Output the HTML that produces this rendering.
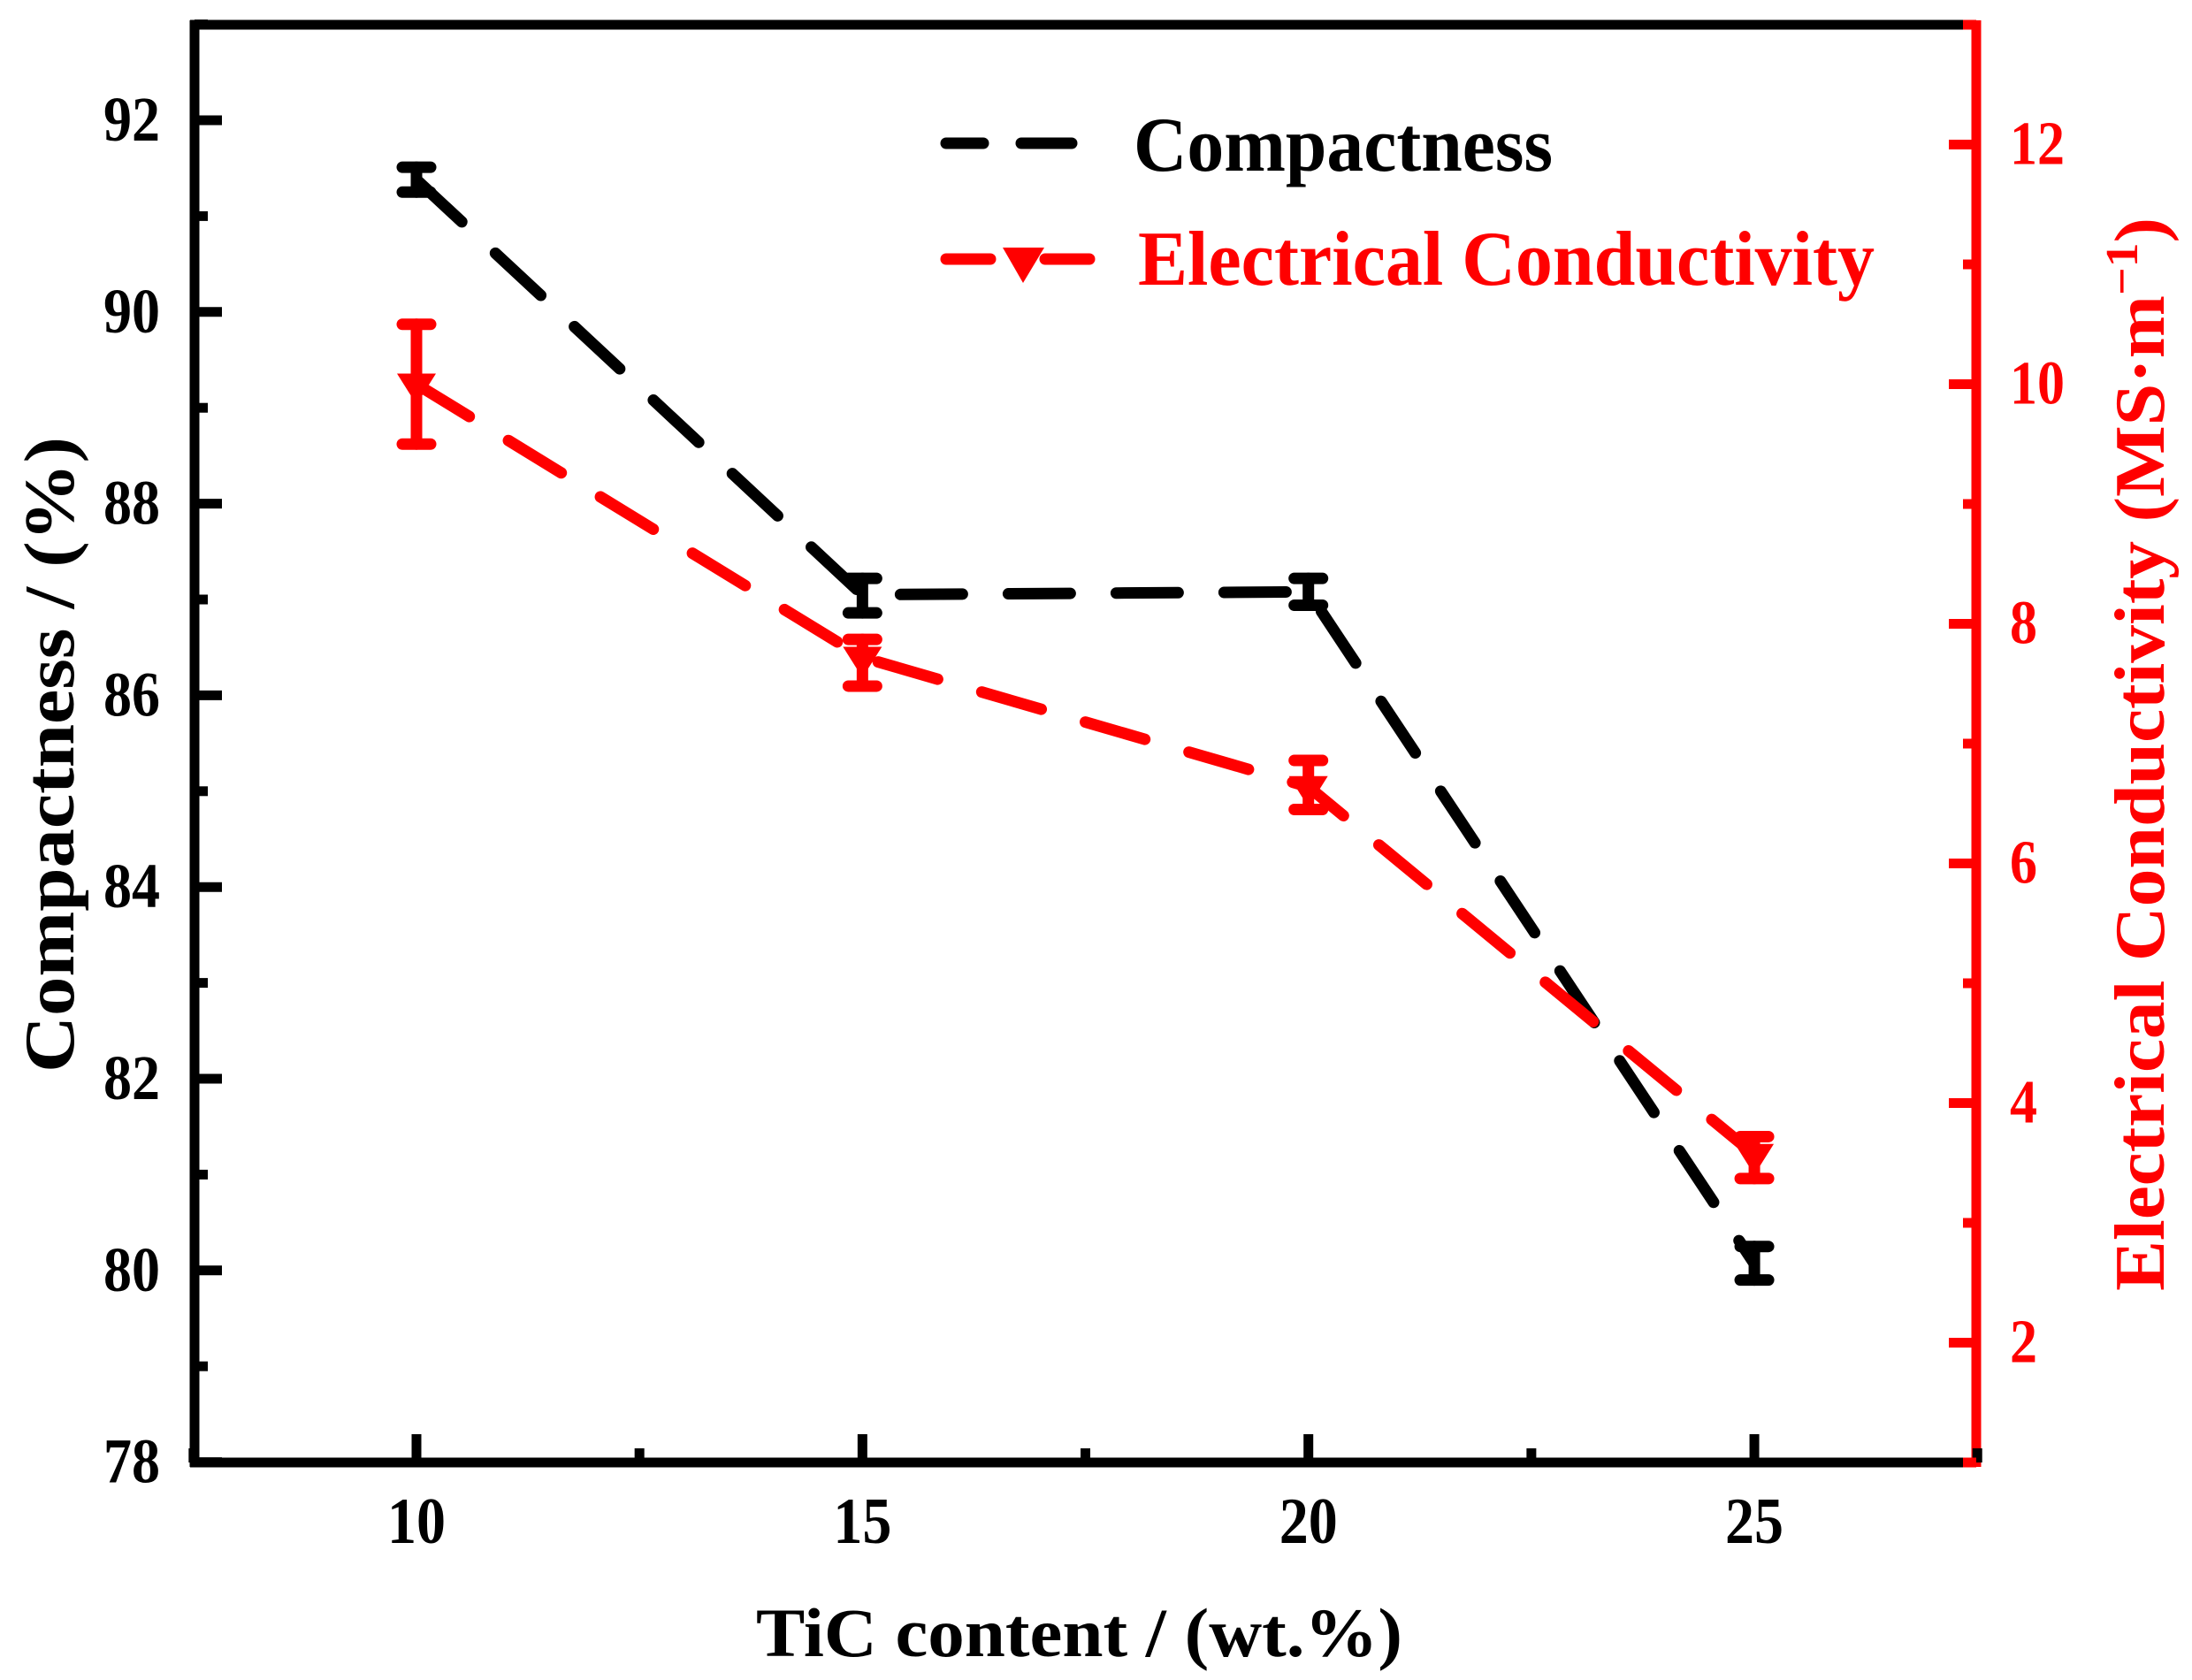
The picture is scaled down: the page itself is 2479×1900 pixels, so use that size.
<!DOCTYPE html>
<html><head><meta charset="utf-8"><style>
html,body{margin:0;padding:0;background:#fff;}
svg{display:block;}
text{font-family:"Liberation Serif",serif;font-weight:bold;}
</style></head><body>
<svg id="chart" width="2479" height="1900" viewBox="0 0 2479 1900" xmlns="http://www.w3.org/2000/svg">
<g id="plot"></g>
</svg>
<script>
const categories = [10, 15, 20, 25];
const compactness = [91.38, 87.05, 87.08, 80.07];
const compactnessErrHi = [91.51, 87.22, 87.22, 80.25];
const compactnessErrLo = [91.25, 86.86, 86.94, 79.90];
const conductivity = [10.0, 7.72, 6.64, 3.57];
const conductivityErrHi = [10.5, 7.87, 6.86, 3.72];
const conductivityErrLo = [9.5, 7.48, 6.45, 3.37];
const xTicks = [10, 15, 20, 25];
const xMinor = [7.5, 12.5, 17.5, 22.5, 27.5];
const yLeftTicks = [78, 80, 82, 84, 86, 88, 90, 92];
const yLeftMinor = [79, 81, 83, 85, 87, 89, 91, 93];
const yRightTicks = [2, 4, 6, 8, 10, 12];
const yRightMinor = [1, 3, 5, 7, 9, 11, 13];

const NS = "http://www.w3.org/2000/svg";
const plotG = document.getElementById("plot");
const X0 = 220, X1 = 2235, Y0 = 28, Y1 = 1654;
function x(v){ return 471 + (v - 10) * 100.87; }
function yL(v){ return 136 + (92 - v) * 108.4; }
function yR(v){ return 1654 - (v - 1) * 135.5; }
function mk(tag, attrs, parent){
  const e = document.createElementNS(NS, tag);
  for (const k in attrs) e.setAttribute(k, attrs[k]);
  (parent || plotG).appendChild(e);
  return e;
}

const blackPts = categories.map((c,i)=>x(c)+","+yL(compactness[i])).join(" ");
const lineC = mk("polyline",{points:blackPts,fill:"none",stroke:"#000","stroke-width":13,"stroke-dasharray":"70 52","stroke-linecap":"round","stroke-linejoin":"round"});


const redPts = categories.map((c,i)=>x(c)+","+yR(conductivity[i])).join(" ");
const lineE = mk("polyline",{points:redPts,fill:"none",stroke:"#ff0000","stroke-width":13,"stroke-dasharray":"70 52","stroke-linecap":"round","stroke-linejoin":"round"});



categories.forEach((c,i)=>{
  const cx = x(c);
  const eb = mk("g",{stroke:"#000","stroke-width":13,"stroke-linecap":"round"});
  
  
  const hi = yL(compactnessErrHi[i]), lo = yL(compactnessErrLo[i]);
  mk("line",{x1:cx,y1:hi,x2:cx,y2:lo},eb);
  mk("line",{x1:cx-16,y1:hi,x2:cx+16,y2:hi},eb);
  mk("line",{x1:cx-16,y1:lo,x2:cx+16,y2:lo},eb);
  const eb2 = mk("g",{stroke:"#ff0000","stroke-width":13,"stroke-linecap":"round"});
  
  
  const h2 = yR(conductivityErrHi[i]), lo2 = yR(conductivityErrLo[i]);
  mk("line",{x1:cx,y1:h2,x2:cx,y2:lo2},eb2);
  mk("line",{x1:cx-16,y1:h2,x2:cx+16,y2:h2},eb2);
  mk("line",{x1:cx-16,y1:lo2,x2:cx+16,y2:lo2},eb2);
  const cy = yR(conductivity[i]);
  const tri = mk("polygon",{points:(cx-22)+","+(cy-12)+" "+(cx+22)+","+(cy-12)+" "+cx+","+(cy+23),fill:"#ff0000"});
  
  
});

const topAx = mk("line",{x1:X0-5,y1:Y0,x2:X1,y2:Y0,stroke:"#000","stroke-width":11});


const botAx = mk("line",{x1:X0-5,y1:Y1,x2:X1,y2:Y1,stroke:"#000","stroke-width":11});


const leftAx = mk("line",{x1:X0,y1:Y0-5,x2:X0,y2:Y1+5,stroke:"#000","stroke-width":11});


const rightAx = mk("line",{x1:X1,y1:Y0-5,x2:X1,y2:Y1+5,stroke:"#ff0000","stroke-width":11});



xTicks.forEach(v=>{
  const t = mk("line",{x1:x(v),y1:Y1,x2:x(v),y2:Y1-32,stroke:"#000","stroke-width":11});
  
  
  const tx = mk("text",{x:x(v),y:1745,"text-anchor":"middle","font-size":74,textLength:66,lengthAdjust:"spacingAndGlyphs",fill:"#000"});
  tx.textContent = v;
  
  
});
xMinor.forEach(v=>{
  const t = mk("line",{x1:x(v),y1:Y1,x2:x(v),y2:Y1-16,stroke:"#000","stroke-width":11});
  
  
});
yLeftTicks.forEach(v=>{
  const t = mk("line",{x1:X0,y1:yL(v),x2:X0+31,y2:yL(v),stroke:"#000","stroke-width":11});
  
  
  const tx = mk("text",{x:181,y:yL(v)+23,"text-anchor":"end","font-size":72,textLength:64,lengthAdjust:"spacingAndGlyphs",fill:"#000"});
  tx.textContent = v;
  
  
});
yLeftMinor.forEach(v=>{
  const t = mk("line",{x1:X0,y1:yL(v),x2:X0+15,y2:yL(v),stroke:"#000","stroke-width":11});
  
  
});
yRightTicks.forEach(v=>{
  const t = mk("line",{x1:X1,y1:yR(v),x2:X1-31,y2:yR(v),stroke:"#ff0000","stroke-width":11});
  
  
  const s = String(v);
  const tx = mk("text",{x:2273,y:yR(v)+22,"text-anchor":"start","font-size":70,textLength:s.length*31,lengthAdjust:"spacingAndGlyphs",fill:"#ff0000"});
  tx.textContent = s;
  
  
});
yRightMinor.forEach(v=>{
  const t = mk("line",{x1:X1,y1:yR(v),x2:X1-15,y2:yR(v),stroke:"#ff0000","stroke-width":11});
  
  
});
</script>
<svg style="position:absolute;left:0;top:0" width="2479" height="1900" viewBox="0 0 2479 1900" xmlns="http://www.w3.org/2000/svg">
<text x="855" y="1873" font-size="78" textLength="731" lengthAdjust="spacingAndGlyphs" fill="#000">TiC content / (wt.%)</text>
<text transform="translate(83,1213) rotate(-90)" x="0" y="0" font-size="80" textLength="719" lengthAdjust="spacingAndGlyphs" fill="#000">Compactness / (%)</text>
<text transform="translate(2447,1460) rotate(-90)" x="0" y="0" font-size="80" fill="#ff0000" textLength="1214" lengthAdjust="spacingAndGlyphs">Electrical Conductivity (MS·m<tspan dy="-30" font-size="52">−1</tspan><tspan dy="30">)</tspan></text>
<g>
  <g>
    <line x1="1070" y1="162" x2="1112" y2="162" stroke="#000" stroke-width="13" stroke-linecap="round"/>
    <line x1="1155" y1="162" x2="1212" y2="162" stroke="#000" stroke-width="13" stroke-linecap="round"/>
    <text x="1282" y="193" font-size="88" textLength="474" lengthAdjust="spacingAndGlyphs" fill="#000">Compactness</text>
  </g>
  <g>
    <line x1="1070" y1="293" x2="1120" y2="293" stroke="#ff0000" stroke-width="13" stroke-linecap="round"/>
    <line x1="1182" y1="293" x2="1232" y2="293" stroke="#ff0000" stroke-width="13" stroke-linecap="round"/>
    <polygon points="1134,280 1181,280 1157,320" fill="#ff0000"/>
    <text x="1287" y="322" font-size="88" textLength="833" lengthAdjust="spacingAndGlyphs" fill="#ff0000">Electrical Conductivity</text>
  </g>
</g>
</svg>
</body></html>
